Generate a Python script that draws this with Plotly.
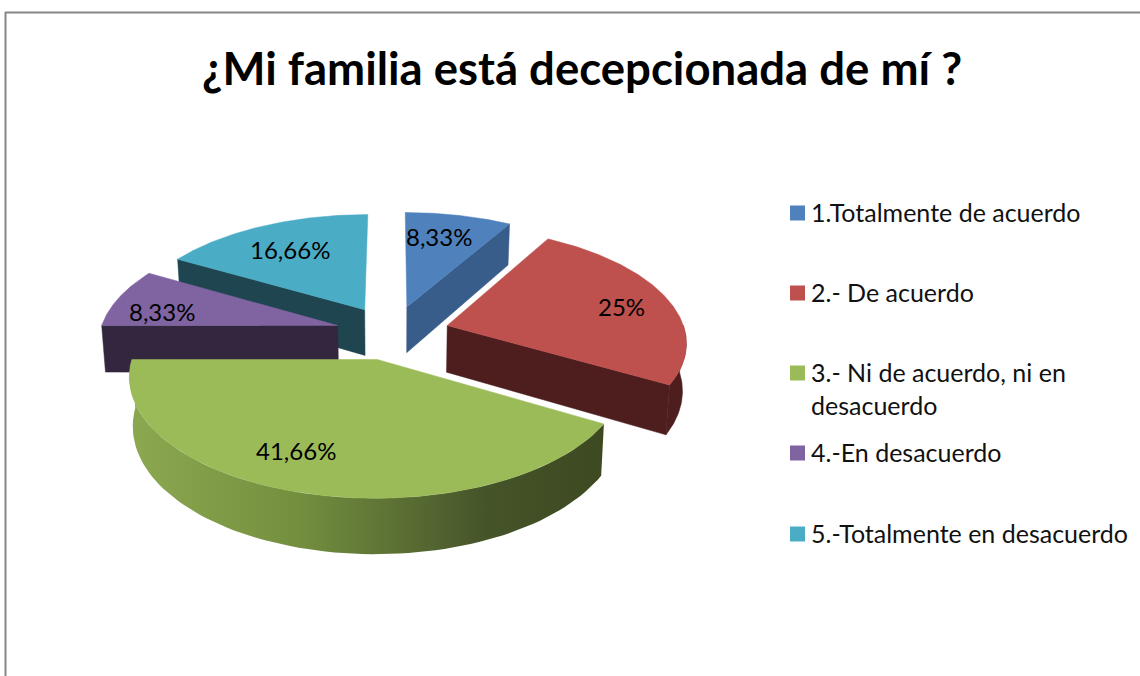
"""Exploded 3D-look pie chart: slices are projected from the values onto a pixel-sized axis."""

import numpy as np
import plotly.graph_objects as go

TITLE = "¿Mi familia está decepcionada de mí ?"
categories = [
    "1.Totalmente de acuerdo",
    "2.- De acuerdo",
    "3.- Ni de acuerdo, ni en<br>desacuerdo",
    "4.-En desacuerdo",
    "5.-Totalmente en desacuerdo",
]
values = [8.33, 25, 41.66, 8.33, 16.66]
value_labels = ["8,33%", "25%", "41,66%", "8,33%", "16,66%"]

top_colors = ["#4F81BD", "#BE504D", "#9BBB59", "#8064A2", "#4BACC6"]
wall_colors = ["#385D8A", "#4E1E1E", "#3F4A20", "#33273F", "#1E4550"]
green_wall_scale = [[0, "#8CA850"], [0.35, "#74903F"], [0.75, "#46542A"], [1, "#3D4920"]]

# layout, in page pixels
WIDTH, HEIGHT = 1140, 676
CX, CY = 392.5, 332.5
RX, RY = 238, 113
PERSPECTIVE = 0.13
EXPLODE = 0.24
DEPTH = 47
label_x = [439, 621, 296, 162, 290]
label_y = [236, 306, 450, 311, 249]
legend_x = 797.5
legend_text_x = 809
legend_y = [213, 293, 373, 453, 534]
draw_order = [4, 0, 3, 1, 2]


def project(theta, radius, offset, drop=False):
    """Ground point on a slice (angle clockwise from 12 o'clock) to page pixels."""
    gx = radius * np.sin(theta) + offset[0]
    gy = radius * np.cos(theta) + offset[1]
    scale = 1 / (1 + PERSPECTIVE * gy)
    x = CX + RX * gx * scale
    y = CY - RY * gy * scale
    if drop:
        x = x + (CX - x) * 0.013
        y = y + DEPTH * scale
    return x, y


def polygon(fig, xs, ys, color, gradient=None):
    trace = dict(
        x=list(xs), y=list(ys), mode="lines", fill="toself",
        line=dict(width=0 if gradient else 0.5, color=color), hoverinfo="skip", showlegend=False,
    )
    if gradient:
        trace["fillgradient"] = dict(type="horizontal", colorscale=gradient)
    else:
        trace["fillcolor"] = color
    fig.add_trace(go.Scatter(**trace))


def cut_wall(fig, theta, offset, color):
    x0, y0 = project(theta, 0, offset)
    x1, y1 = project(theta, 1, offset)
    x2, y2 = project(theta, 1, offset, drop=True)
    x3, y3 = project(theta, 0, offset, drop=True)
    polygon(fig, [x0, x1, x2, x3, x0], [y0, y1, y2, y3, y0], color)


fig = go.Figure()

shares = np.array(values) / sum(values) * 2 * np.pi
ends = np.cumsum(shares)
starts = ends - shares

for i in draw_order:
    mid = (starts[i] + ends[i]) / 2
    offset = (EXPLODE * np.sin(mid), EXPLODE * np.cos(mid))

    # cut faces turned towards the viewer
    if np.cos(starts[i] - np.pi / 2) < -1e-6:
        cut_wall(fig, starts[i], offset, wall_colors[i])
    if np.cos(ends[i] + np.pi / 2) < -1e-6:
        cut_wall(fig, ends[i], offset, wall_colors[i])

    # outer rim, only its front part shows
    lo, hi = max(starts[i], np.pi / 2), min(ends[i], 3 * np.pi / 2)
    if hi > lo:
        t = np.linspace(lo, hi, 80)
        xa, ya = project(t, 1, offset)
        xb, yb = project(t, 1, offset, drop=True)
        polygon(
            fig,
            np.r_[xa, xb[::-1], xa[0]],
            np.r_[ya, yb[::-1], ya[0]],
            wall_colors[i],
            gradient=green_wall_scale if i == 2 else None,
        )

    # top face
    t = np.linspace(starts[i], ends[i], 120)
    xa, ya = project(t, 1, offset)
    x0, y0 = project(0.0, 0, offset)
    polygon(fig, np.r_[x0, xa, x0], np.r_[y0, ya, y0], top_colors[i])

# legend swatches
fig.add_trace(go.Scatter(
    x=[legend_x] * len(categories), y=legend_y, mode="markers",
    marker=dict(symbol="square", size=15, color=top_colors),
    hoverinfo="skip", showlegend=False,
))

FONT = "Lato, Carlito, sans-serif"

for text, x, y in zip(value_labels, label_x, label_y):
    fig.add_annotation(x=x, y=y, text=text, showarrow=False, xanchor="center", yanchor="middle",
                       font=dict(family=FONT, size=24, color="#000000"))

for text, y in zip(categories, legend_y):
    fig.add_annotation(x=legend_text_x, y=y - 18, text=text, showarrow=False, xanchor="left",
                       yanchor="top", align="left",
                       font=dict(family=FONT, size=25, color="#111111"))

fig.add_annotation(x=582, y=67, text=f"<b>{TITLE}</b>", showarrow=False, xanchor="center",
                   yanchor="middle", font=dict(family=FONT, size=45.5, color="#000000"))

# chart frame runs off the picture on the right and at the bottom
fig.add_shape(type="line", x0=5.5, x1=5.5, y0=HEIGHT, y1=12, line=dict(color="#868686", width=2))
fig.add_shape(type="line", x0=5, x1=WIDTH, y0=12.5, y1=12.5, line=dict(color="#868686", width=2))

fig.update_layout(
    width=WIDTH, height=HEIGHT,
    margin=dict(l=0, r=0, t=0, b=0),
    paper_bgcolor="white", plot_bgcolor="white",
    xaxis=dict(range=[0, WIDTH], visible=False, fixedrange=True),
    yaxis=dict(range=[HEIGHT, 0], visible=False, fixedrange=True),
    showlegend=False,
)

fig.write_html("out.html", post_script="document.body.style.margin='0';document.body.style.overflow='hidden';",
               config={"displayModeBar": False})
